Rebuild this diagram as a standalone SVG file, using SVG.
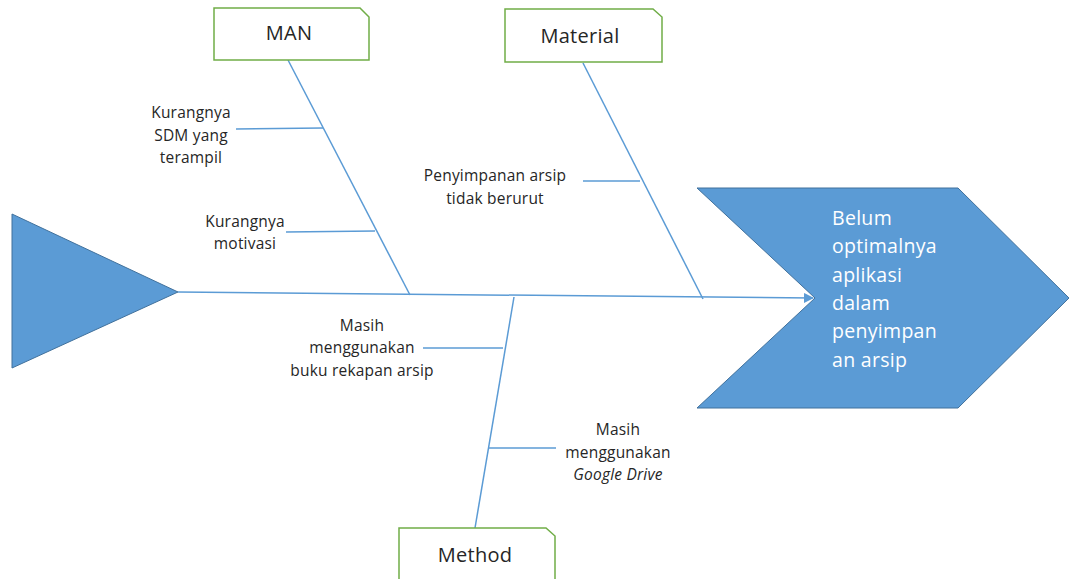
<svg xmlns="http://www.w3.org/2000/svg" width="1069" height="579" viewBox="0 0 1069 579">
<defs>
<style>
.shape{fill:#5B9BD5;stroke:#41719C;stroke-width:1}
.bone{stroke:#5B9BD5;stroke-width:1.5;fill:none}
.box{fill:#fff;stroke:#70AD47;stroke-width:1.5}
.lbl{font-family:"Open Sans","Liberation Sans",sans-serif;font-size:15.5px;fill:#262626;text-anchor:middle;letter-spacing:0.2px}
.head{font-family:"Open Sans","Liberation Sans",sans-serif;font-size:20px;fill:#262626;text-anchor:middle;letter-spacing:0.3px}
.effect{font-family:"Open Sans","Liberation Sans",sans-serif;font-size:19.5px;fill:#fff;letter-spacing:0.3px}
</style>
<marker id="arr" markerWidth="10" markerHeight="10" refX="9" refY="5" orient="auto" markerUnits="userSpaceOnUse">
<path d="M0,0 L10,5 L0,10 Z" fill="#5B9BD5"/>
</marker>
</defs>
<rect width="1069" height="579" fill="#fff"/>
<g id="connectors">
<line class="bone" x1="178" y1="292" x2="813" y2="298" marker-end="url(#arr)"/>
<line class="bone" x1="288" y1="60" x2="410" y2="295"/>
<line class="bone" x1="236" y1="129" x2="323" y2="128"/>
<line class="bone" x1="286" y1="232" x2="375" y2="231"/>
<line class="bone" x1="583" y1="63" x2="703" y2="299"/>
<line class="bone" x1="583" y1="181" x2="640" y2="181"/>
<line class="bone" x1="514" y1="297" x2="475" y2="528"/>
<line class="bone" x1="423" y1="348" x2="503" y2="348"/>
<line class="bone" x1="489" y1="448" x2="556" y2="448"/>
</g>
<g id="tail">
<polygon class="shape" points="12,214 178,292 12,368"/>
</g>
<g id="effect">
<polygon class="shape" points="697,188 958,188 1069,298 958,408 697,408 815,298"/>
<text class="effect"><tspan x="832" y="225">Belum</tspan><tspan x="832" y="253">optimalnya</tspan><tspan x="832" y="282">aplikasi</tspan><tspan x="832" y="310">dalam</tspan><tspan x="832" y="338">penyimpan</tspan><tspan x="832" y="367">an arsip</tspan></text>
</g>
<g id="man">
<polygon class="box" points="214,8 360,8 369,17 369,60 214,60"/>
<text class="head" x="289" y="40">MAN</text>
</g>
<g id="material">
<polygon class="box" points="505,9 653,9 662,17 662,62 505,62"/>
<text class="head" x="580" y="43">Material</text>
</g>
<g id="method">
<polygon class="box" points="399,528 546,528 555,536 555,582 399,582"/>
<text class="head" x="475" y="562">Method</text>
</g>
<g id="cause-sdm">
<text class="lbl"><tspan x="191" y="118">Kurangnya</tspan><tspan x="191" y="141">SDM yang</tspan><tspan x="191" y="163">terampil</tspan></text>
</g>
<g id="cause-motivasi">
<text class="lbl"><tspan x="245" y="227">Kurangnya</tspan><tspan x="245" y="249">motivasi</tspan></text>
</g>
<g id="cause-penyimpanan">
<text class="lbl"><tspan x="495" y="181">Penyimpanan arsip</tspan><tspan x="495" y="204">tidak berurut</tspan></text>
</g>
<g id="cause-buku">
<text class="lbl"><tspan x="362" y="331">Masih</tspan><tspan x="362" y="353">menggunakan</tspan><tspan x="362" y="376">buku rekapan arsip</tspan></text>
</g>
<g id="cause-gdrive">
<text class="lbl"><tspan x="618" y="435">Masih</tspan><tspan x="618" y="458">menggunakan</tspan><tspan x="618" y="480" font-style="italic">Google Drive</tspan></text>
</g>
</svg>
